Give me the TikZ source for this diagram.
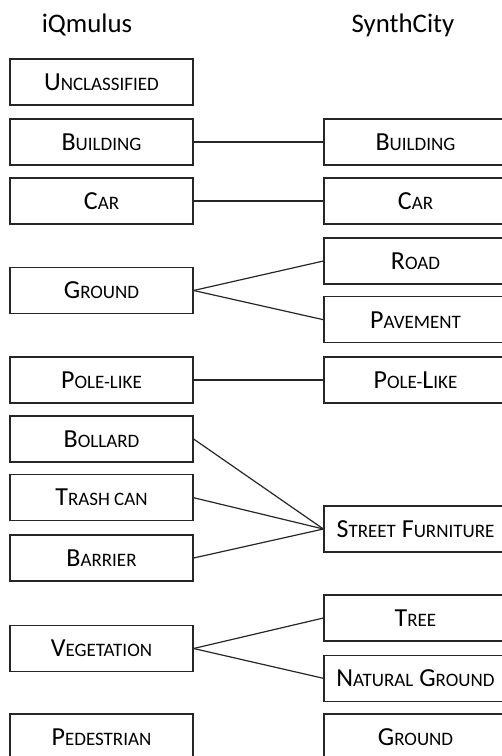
\documentclass[tikz,border=0pt]{standalone}
\usepackage{fontspec}
\setmainfont{Carlito}
\usetikzlibrary{positioning}
\newcommand{\cls}[2]{#1{\fontsize{9.5}{12}\selectfont\MakeUppercase{#2}}}
\tikzset{
  cls/.style = {draw, line width = .6pt, minimum width = 91.5pt, minimum height = 23pt, inner sep = 0pt},
  ttl/.style = {inner sep = 0pt}
}

\begin{document}
\begin{tikzpicture} [x = .5pt, y = -.5pt, font = \fontsize{13}{16}\selectfont, line width = .6pt, draw = black!85]
\useasboundingbox (0,0) rectangle (502,756);
\node[ttl](tq) at (87,25) {\fontsize{13.4}{16}\selectfont iQmulus};
\node[ttl](ts) at (403,25) {\fontsize{13.4}{16}\selectfont SynthCity};
\node[cls](q1) at (101.5,82) {\cls{U}{nclassified}};
\node[cls](q2) at (101.5,142) {\cls{B}{uilding}};
\node[cls](q3) at (101.5,201) {\cls{C}{ar}};
\node[cls](q4) at (101.5,290.5) {\cls{G}{round}};
\node[cls](q5) at (101.5,380) {\cls{P}{ole-like}};
\node[cls](q6) at (101.5,439) {\cls{B}{ollard}};
\node[cls](q7) at (101.5,497.7) {\cls{T}{rash can}};
\node[cls](q8) at (101.5,558) {\cls{B}{arrier}};
\node[cls](q9) at (101.5,648.5) {\cls{V}{egetation}};
\node[cls](q10) at (101.5,737) {\cls{P}{edestrian}};
\node[cls](s1) at (415.5,142) {\cls{B}{uilding}};
\node[cls](s2) at (415.5,201) {\cls{C}{ar}};
\node[cls](s3) at (415.5,261) {\cls{R}{oad}};
\node[cls](s4) at (415.5,319.7) {\cls{P}{avement}};
\node[cls](s5) at (415.5,380) {\cls{P}{ole-}\cls{L}{ike}};
\node[cls](s6) at (415.5,529) {\cls{S}{treet} \cls{F}{urniture}};
\node[cls](s7) at (415.5,618) {\cls{T}{ree}};
\node[cls](s8) at (415.5,678.3) {\cls{N}{atural} \cls{G}{round}};
\node[cls](s9) at (415.5,737) {\cls{G}{round}};
\draw (q2.east) -- (s1.west);
\draw (q3.east) -- (s2.west);
\draw (q4.east) -- (s3.west);
\draw (q4.east) -- (s4.west);
\draw (q5.east) -- (s5.west);
\draw (q6.east) -- (s6.west);
\draw (q7.east) -- (s6.west);
\draw (q8.east) -- (s6.west);
\draw (q9.east) -- (s7.west);
\draw (q9.east) -- (s8.west);
\end{tikzpicture}
\end{document}
